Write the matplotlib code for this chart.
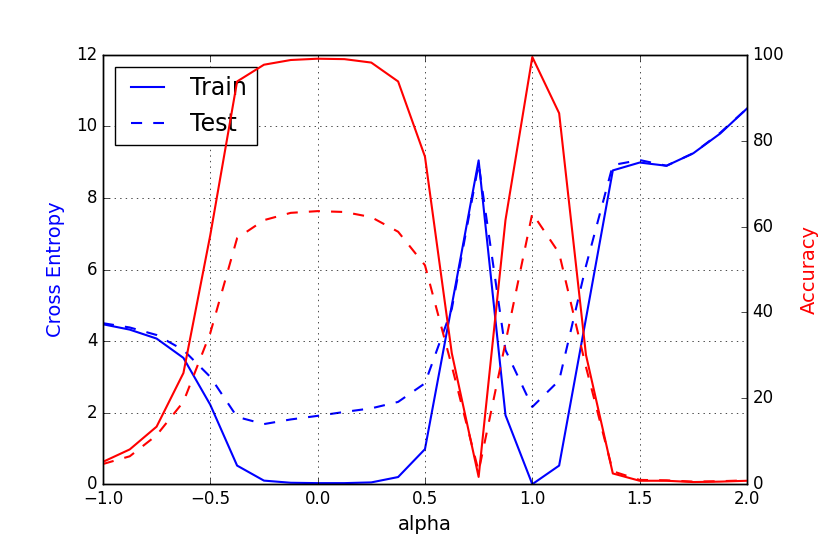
import matplotlib
matplotlib.use('Agg')
import matplotlib.pyplot as plt

plt.style.use('classic')

alpha = [-1.0, -0.875, -0.75, -0.625, -0.5, -0.375, -0.25, -0.125, 0.0,
         0.125, 0.25, 0.375, 0.5, 0.625, 0.75, 0.875, 1.0, 1.125, 1.25,
         1.375, 1.5, 1.625, 1.75, 1.875, 2.0]

train_ce = [4.47, 4.32, 4.07, 3.53, 2.22, 0.52, 0.1, 0.04, 0.03, 0.03, 0.05, 0.2,
            0.98, 5.0, 9.05, 1.93, 0.0, 0.52, 4.63, 8.77, 8.99, 8.9, 9.25, 9.8, 10.5]
test_ce = [4.5, 4.38, 4.17, 3.75, 3.0, 1.88, 1.68, 1.81, 1.91, 2.02, 2.12, 2.3,
           2.82, 4.9, 8.95, 3.75, 2.16, 2.9, 6.1, 8.92, 9.06, 8.9, 9.25, 9.82, 10.5]

train_acc = [5.2, 8.1, 13.4, 25.9, 58.0, 93.8, 97.7, 98.8, 99.1, 99.0, 98.2, 93.8,
             76.3, 30.5, 1.7, 61.5, 99.5, 86.4, 30.1, 2.5, 0.8, 0.8, 0.5, 0.6, 0.8]
test_acc = [4.7, 6.5, 11.4, 19.2, 35.2, 57.3, 61.5, 63.2, 63.6, 63.4, 62.2, 58.8,
            51.0, 27.5, 3.0, 33.0, 63.1, 53.8, 27.3, 3.0, 1.0, 0.9, 0.6, 0.7, 0.9]

lw = 1.5
fs = 14
dash = (8, 8)

fig = plt.figure(figsize=(8.3, 5.54), dpi=100, facecolor='white')
ax1 = fig.add_axes([0.124, 0.126, 0.776, 0.775])
ax1.plot(alpha, train_ce, 'b-', linewidth=lw, label='Train')
ax1.plot(alpha, test_ce, 'b--', linewidth=lw, dashes=dash, label='Test')
ax1.set_xlim(-1.0, 2.0)
ax1.set_ylim(0, 12)
ax1.set_xlabel('alpha', fontsize=fs)
ax1.set_ylabel('Cross Entropy', color='b', fontsize=fs, labelpad=8)
ax1.grid(True)
ax1.legend(loc='upper left', fontsize=17)

ax2 = ax1.twinx()
ax2.plot(alpha, train_acc, 'r-', linewidth=lw)
ax2.plot(alpha, test_acc, 'r--', linewidth=lw, dashes=dash)
ax2.set_ylim(0, 100)
ax2.set_xlim(-1.0, 2.0)
ax2.set_ylabel('Accuracy', color='r', fontsize=fs, labelpad=11)

fig.savefig('out.png', dpi=100, facecolor='white')
